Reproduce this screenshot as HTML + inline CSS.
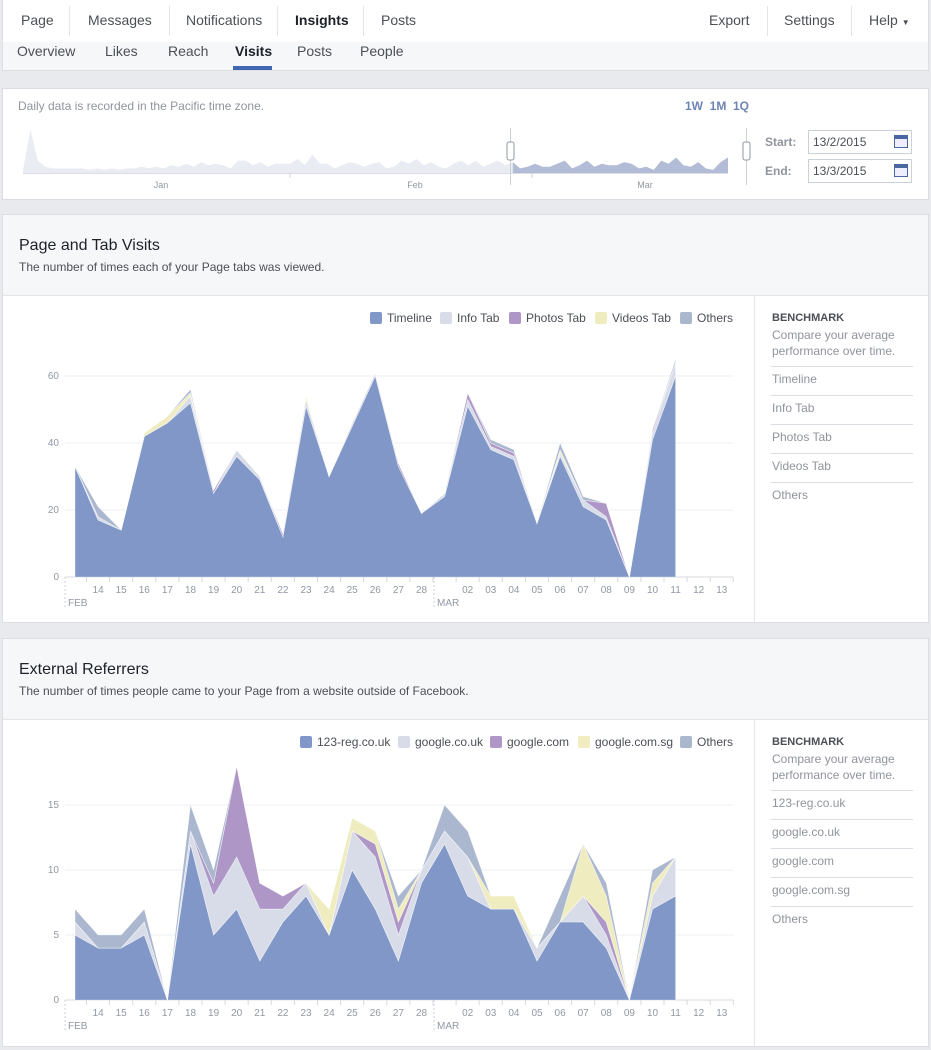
<!DOCTYPE html>
<html><head><meta charset="utf-8">
<style>
body{margin:0;width:931px;height:1050px;background:#e9eaed;font-family:"Liberation Sans",Arial,sans-serif;position:relative;overflow:hidden;color:#4b4f56}
.abs{position:absolute}
.nav{left:2px;top:0;width:925px;height:42px;background:#fff;border:1px solid #dcdee3;border-top:none}
.nav span{position:absolute;top:12px;font-size:14px;color:#4b4f56}
.sep{position:absolute;top:6px;width:1px;height:30px;background:#e5e5e5}
.sub{left:2px;top:42px;width:925px;height:28px;background:#f6f7f9;border:1px solid #dcdee3;border-top:none}
.sub span{position:absolute;top:1px;font-size:14px;color:#4b4f56}
.card{background:#fff;border:1px solid #dcdee3;left:2px;width:925px}
.hdr{background:#f6f7f9;border-bottom:1px solid #e5e5e5;left:0;top:0;width:925px;height:80px}
.bm{font-size:12px;color:#90949c;left:769px}
.bl{left:768px;width:142px;height:1px;background:#dcdee3}
</style></head><body>
<div class="abs nav">
 <span style="left:18px">Page</span><div class="sep" style="left:66px"></div>
 <span style="left:85px">Messages</span><div class="sep" style="left:166px"></div>
 <span style="left:183px">Notifications</span><div class="sep" style="left:274px"></div>
 <span style="left:292px;font-weight:bold;color:#1d2129">Insights</span><div class="sep" style="left:360px"></div>
 <span style="left:378px">Posts</span>
 <span style="left:706px">Export</span><div class="sep" style="left:764px"></div>
 <span style="left:781px">Settings</span><div class="sep" style="left:848px"></div>
 <span style="left:866px">Help <small style="font-size:8px">▼</small></span>
</div>
<div class="abs sub">
 <span style="left:14px">Overview</span>
 <span style="left:102px">Likes</span>
 <span style="left:165px">Reach</span>
 <span style="left:232px;font-weight:bold;color:#1d2129">Visits</span>
 <div style="position:absolute;left:230px;top:24px;width:39px;height:4px;background:#4267b2"></div>
 <span style="left:294px">Posts</span>
 <span style="left:357px">People</span>
</div>
<div class="abs card" style="top:88px;height:110px">
 <div class="abs" style="left:15px;top:10px;font-size:12px;color:#90949c">Daily data is recorded in the Pacific time zone.</div>
 <div class="abs" style="left:682px;top:10px;font-size:12px;font-weight:bold;color:#6d84b4">1W&nbsp; 1M&nbsp; 1Q</div>
 <div class="abs" style="left:762px;top:46px;font-size:12px;font-weight:bold;color:#90949c">Start:</div>
 <div class="abs" style="left:762px;top:75px;font-size:12px;font-weight:bold;color:#90949c">End:</div>
 <div class="abs" style="left:805px;top:41px;width:102px;height:22px;border:1px solid #ccd0d9;font-size:12px;line-height:22px;text-indent:4px;color:#4b4f56">13/2/2015<span style="position:absolute;right:3px;top:4px;width:14px;height:13px;border:1px solid #4b67a1;border-top-width:4px;box-sizing:border-box;background:#eef"></span></div>
 <div class="abs" style="left:805px;top:70px;width:102px;height:22px;border:1px solid #ccd0d9;font-size:12px;line-height:22px;text-indent:4px;color:#4b4f56">13/3/2015<span style="position:absolute;right:3px;top:4px;width:14px;height:13px;border:1px solid #4b67a1;border-top-width:4px;box-sizing:border-box;background:#eef"></span></div>
</div>
<div class="abs card" style="top:214px;height:407px">
 <div class="abs hdr"></div>
 <div class="abs" style="left:16px;top:22px;font-size:16px;color:#1d2129">Page and Tab Visits</div>
 <div class="abs" style="left:16px;top:45px;font-size:12px;color:#4b4f56">The number of times each of your Page tabs was viewed.</div>
 <div class="abs" style="left:751px;top:81px;width:1px;height:326px;background:#e5e5e5"></div>
 <div class="abs bm" style="top:97px;font-weight:bold;color:#4b4f56;font-size:11px">BENCHMARK</div>
 <div class="abs bm" style="top:112px;line-height:16px">Compare your average<br>performance over time.</div>
 <div class="abs bl" style="top:151px"></div><div class="abs bm" style="top:157px">Timeline</div>
 <div class="abs bl" style="top:180px"></div><div class="abs bm" style="top:186px">Info Tab</div>
 <div class="abs bl" style="top:209px"></div><div class="abs bm" style="top:215px">Photos Tab</div>
 <div class="abs bl" style="top:238px"></div><div class="abs bm" style="top:244px">Videos Tab</div>
 <div class="abs bl" style="top:267px"></div><div class="abs bm" style="top:273px">Others</div>
</div>
<div class="abs card" style="top:638px;height:407px">
 <div class="abs hdr"></div>
 <div class="abs" style="left:16px;top:22px;font-size:16px;color:#1d2129">External Referrers</div>
 <div class="abs" style="left:16px;top:45px;font-size:12px;color:#4b4f56">The number of times people came to your Page from a website outside of Facebook.</div>
 <div class="abs" style="left:751px;top:81px;width:1px;height:326px;background:#e5e5e5"></div>
 <div class="abs bm" style="top:97px;font-weight:bold;color:#4b4f56;font-size:11px">BENCHMARK</div>
 <div class="abs bm" style="top:112px;line-height:16px">Compare your average<br>performance over time.</div>
 <div class="abs bl" style="top:151px"></div><div class="abs bm" style="top:157px">123-reg.co.uk</div>
 <div class="abs bl" style="top:180px"></div><div class="abs bm" style="top:186px">google.co.uk</div>
 <div class="abs bl" style="top:209px"></div><div class="abs bm" style="top:215px">google.com</div>
 <div class="abs bl" style="top:238px"></div><div class="abs bm" style="top:244px">google.com.sg</div>
 <div class="abs bl" style="top:267px"></div><div class="abs bm" style="top:273px">Others</div>
</div>
<svg id="ov" class="abs" style="left:0;top:0" width="931" height="1050"></svg>
<script>
const days=["13","14","15","16","17","18","19","20","21","22","23","24","25","26","27","28","01","02","03","04","05","06","07","08","09","10","11","12","13"];
const colors=["#8097c7","#d8dce8","#ae97c6","#efedc0","#aab7ce"];
const names1=["Timeline","Info Tab","Photos Tab","Videos Tab","Others"];
const timeline=[33,17,14,42,46,52,25,36,29,12,51,30,45,60,33,19,24,51,38,35,16,36,21,17,0,41,60];
const infoTab=[0,1,0,0,0,2,0,2,1,0,2,0,1,1,0,0,1,2,1,1,0,1,2,1,0,2,4];
const photosTab=[0,0,0,0,0,0,1,0,0,1,0,0,0,0,1,0,0,2,1,1,0,0,0,4,0,1,0];
const videosTab=[0,0,0,1,2,1,0,0,0,0,1,0,0,0,0,0,0,0,0,0,0,1,0,0,0,0,0];
const others1=[0,3,0,0,0,1,0,0,0,0,0,0,0,0,0,0,0,0,1,1,0,2,1,0,0,0,1];
const yTicks1=[0,20,40,60];
const names2=["123-reg.co.uk","google.co.uk","google.com","google.com.sg","Others"];
const reg123=[5,4,4,5,0,12,5,7,3,6,8,5,10,7,3,9,12,8,7,7,3,6,6,4,0,7,8];
const googleUk=[1,0,0,1,0,1,3,4,4,1,1,0,3,4,2,1,1,3,0,0,1,0,2,1,0,1,3];
const googleCom=[0,0,0,0,0,0,1,7,2,1,0,0,0,1,1,0,0,0,0,0,0,0,0,1,0,0,0];
const googleSg=[0,0,0,0,0,0,0,0,0,0,0,2,1,1,1,0,0,0,1,1,0,0,4,2,0,1,0];
const others2=[1,1,1,1,0,2,1,0,0,0,0,0,0,0,1,0,2,2,0,0,0,2,0,1,0,1,0];
const yTicks2=[0,5,10,15];
const NS="http://www.w3.org/2000/svg",svg=document.getElementById('ov');
function mk(t,a,p){const e=document.createElementNS(NS,t);for(const k in a)e.setAttribute(k,a[k]);(p||svg).appendChild(e);return e;}
const xOf=i=>75+i*23.1;
function chart(series,names,yt,y0,yMaxPx,maxV,legY,legX,id){
  const g=mk('g',{});
  
  
  const yOf=v=>y0-v*(y0-yMaxPx)/maxV;
  yt.forEach(v=>{
    const l=mk('line',{x1:65,x2:733,y1:yOf(v),y2:yOf(v),stroke:v?'#eeeff2':'#d5d8de','stroke-width':1},g);
    
    
    const t=mk('text',{x:59,y:yOf(v)+3,'text-anchor':'end','font-size':10,fill:'#9197a3'},g);t.textContent=v;
    
    
  });
  let cum=series[0].map(()=>0);
  series.forEach((s,k)=>{
    const top=s.map((v,i)=>cum[i]+v);
    let pts=top.map((v,i)=>xOf(i)+','+yOf(v));
    for(let i=s.length-1;i>=0;i--)pts.push(xOf(i)+','+yOf(cum[i]));
    const p=mk('polygon',{points:pts.join(' '),fill:colors[k],stroke:'#fff','stroke-width':0.6,'stroke-opacity':0.6},g);
    
    
    cum=top;
  });
  days.forEach((d,i)=>{
    mk('line',{x1:xOf(i)+11.5,x2:xOf(i)+11.5,y1:y0,y2:y0+5,stroke:'#d5d8de'},g);
    if(i===0||i===16)return;
    const t=mk('text',{x:xOf(i),y:y0+16,'text-anchor':'middle','font-size':10,fill:'#9197a3'},g);t.textContent=d;
    
    
  });
  [[65,'FEB'],[434,'MAR']].forEach(([x,s])=>{
    mk('line',{x1:x,x2:x,y1:y0,y2:y0+30,stroke:'#ccd0d9','stroke-dasharray':'2,2'},g);
    const t=mk('text',{x:x+3,y:y0+29,'font-size':10,fill:'#9197a3'},g);t.textContent=s;
    
    
  });
  names.forEach((n,k)=>{
    const r=mk('rect',{x:legX[k],y:legY-6,width:12,height:12,rx:2,fill:colors[k]},g);
    
    
    const t=mk('text',{x:legX[k]+17,y:legY+4,'font-size':12,fill:'#4b4f56'},g);t.textContent=n;
    
    
  });
}
chart([timeline,infoTab,photosTab,videosTab,others1],names1,yTicks1,577,376,60,318,[370,440,509,595,680],'page-tab-visits-chart');
chart([reg123,googleUk,googleCom,googleSg,others2],names2,yTicks2,1000,805,15,742,[300,398,490,578,680],'external-referrers-chart');
const overview=[2,28,8,4,3,3,3,3,3,2,3,2,3,2,3,3,4,3,4,3,5,4,6,4,7,5,6,5,3,8,8,5,7,4,6,6,6,9,5,12,6,6,3,5,7,6,4,6,7,3,4,8,6,9,5,7,4,3,6,8,5,8,4,6,8,5,7,3,4,6,4,4,6,8,3,5,8,4,6,5,5,7,6,3,4,2,8,6,10,5,4,7,3,2,7,10];
const og=mk('g',{});


const ox=i=>23+i*(705/(overview.length-1)), oy=v=>173-v*1.55;
const split=Math.round((510-23)/(705/(overview.length-1)));
function oPoly(a,b,fill){let p=[];for(let i=a;i<=b;i++)p.push(ox(i)+','+oy(overview[i]));p.push(ox(b)+',173',ox(a)+',173');mk('polygon',{points:p.join(' '),fill:fill},og);}
oPoly(0,split,'#e9ecf3');oPoly(split,overview.length-1,'#b2bcd6');
mk('line',{x1:23,x2:728,y1:173.5,y2:173.5,stroke:'#dcdee3'},og);
[[161,'Jan'],[415,'Feb'],[645,'Mar']].forEach(([x,s])=>{const t=mk('text',{x:x,y:188,'text-anchor':'middle','font-size':9,fill:'#9197a3'},og);t.textContent=s;

});
[290,532].forEach(x=>mk('line',{x1:x,x2:x,y1:173,y2:178,stroke:'#ccd0d9'},og));
[510,746].forEach(x=>{mk('line',{x1:x+.5,x2:x+.5,y1:128,y2:185,stroke:'#ccd0d9'},og);
 const h=mk('rect',{x:x-3,y:142,width:7,height:18,rx:2,fill:'#fff',stroke:'#9197a3'},og);
 
 });
</script>
</body></html>
